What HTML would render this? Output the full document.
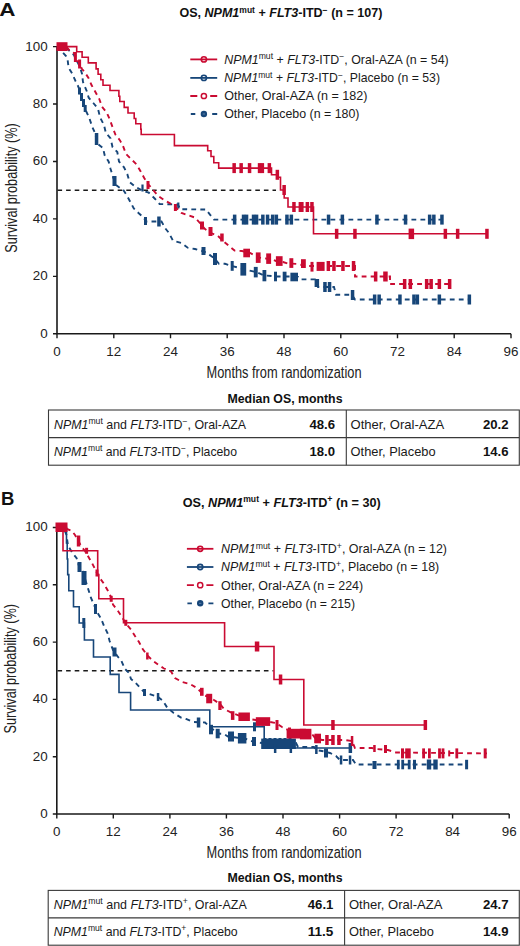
<!DOCTYPE html>
<html><head><meta charset="utf-8"><title>OS NPM1 FLT3</title>
<style>
html,body{margin:0;padding:0;background:#fff;}
body{width:520px;height:946px;overflow:hidden;}
svg{display:block;font-family:"Liberation Sans", sans-serif;}
</style></head>
<body>
<svg width="520" height="946" viewBox="0 0 520 946">
<rect width="520" height="946" fill="#fff"/>
<text x="-0.6" y="16" font-size="19.2" font-weight="bold" fill="#111" transform="scale(1.17 1)">A</text>
<text x="179.4" y="17.2" font-size="12.2" font-weight="bold" fill="#111" textLength="203" lengthAdjust="spacingAndGlyphs">OS, <tspan font-style="italic">NPM1</tspan><tspan font-size="8.3" dy="-4.5">mut</tspan><tspan dy="4.5"> + <tspan font-style="italic">FLT3</tspan>-ITD<tspan font-size="8.5" dy="-4.5">−</tspan><tspan dy="4.5"> (n = 107)</tspan></tspan></text>
<path d="M190.3 59.4 H217.2" stroke="#ca0b32" stroke-width="1.8"/>
<circle cx="203.9" cy="59.4" r="2.6" fill="none" stroke="#ca0b32" stroke-width="1.6"/>
<path d="M190.3 77.9 H217.2" stroke="#174679" stroke-width="1.8"/>
<circle cx="203.9" cy="77.9" r="2.6" fill="none" stroke="#174679" stroke-width="1.6"/>
<path d="M190.3 96 H197.3 M210.2 96 H217.2" stroke="#ca0b32" stroke-width="1.8"/>
<circle cx="203.9" cy="96" r="2.6" fill="#fff" stroke="#ca0b32" stroke-width="1.5"/>
<path d="M190.8 114 H195.3 M212.2 114 H217.2" stroke="#174679" stroke-width="1.8"/>
<circle cx="203.9" cy="114" r="3.2" fill="#174679"/><path d="M202.7 114 h2.4" stroke="#6f8fb8" stroke-width="0.8"/>
<text x="224.2" y="63.7" font-size="12.2" fill="#1a1a1a" textLength="224.5" lengthAdjust="spacingAndGlyphs"><tspan font-style="italic">NPM1</tspan><tspan font-size="8.5" dy="-4.5">mut</tspan><tspan dy="4.5"> + <tspan font-style="italic">FLT3</tspan>-ITD<tspan font-size="8.5" dy="-4.5">−</tspan><tspan dy="4.5">, Oral-AZA (n = 54)</tspan></tspan></text>
<text x="224.2" y="82.2" font-size="12.2" fill="#1a1a1a" textLength="215.8" lengthAdjust="spacingAndGlyphs"><tspan font-style="italic">NPM1</tspan><tspan font-size="8.5" dy="-4.5">mut</tspan><tspan dy="4.5"> + <tspan font-style="italic">FLT3</tspan>-ITD<tspan font-size="8.5" dy="-4.5">−</tspan><tspan dy="4.5">, Placebo (n = 53)</tspan></tspan></text>
<text x="224.2" y="100.3" font-size="12.2" fill="#1a1a1a" textLength="143.3" lengthAdjust="spacingAndGlyphs">Other, Oral-AZA (n = 182)</text>
<text x="224.2" y="118.3" font-size="12.2" fill="#1a1a1a" textLength="135.3" lengthAdjust="spacingAndGlyphs">Other, Placebo (n = 180)</text>
<path d="M57 46.6 V333.8 H511" fill="none" stroke="#1a1a1a" stroke-width="1.6"/>
<path d="M53 333.8 H57 M53 276.4 H57 M53 218.9 H57 M53 161.5 H57 M53 104 H57 M53 46.6 H57 M57 333.8 V338.3 M113.8 333.8 V338.3 M170.5 333.8 V338.3 M227.2 333.8 V338.3 M284 333.8 V338.3 M340.8 333.8 V338.3 M397.5 333.8 V338.3 M454.2 333.8 V338.3 M511 333.8 V338.3" stroke="#1a1a1a" stroke-width="1.4" fill="none"/>
<g font-size="13.4" fill="#222"><text x="47.6" y="337.7" text-anchor="end">0</text><text x="47.6" y="280.2" text-anchor="end">20</text><text x="47.6" y="222.8" text-anchor="end">40</text><text x="47.6" y="165.3" text-anchor="end">60</text><text x="47.6" y="107.9" text-anchor="end">80</text><text x="47.6" y="50.5" text-anchor="end">100</text><text x="57" y="355.8" text-anchor="middle">0</text><text x="113.8" y="355.8" text-anchor="middle">12</text><text x="170.5" y="355.8" text-anchor="middle">24</text><text x="227.2" y="355.8" text-anchor="middle">36</text><text x="284" y="355.8" text-anchor="middle">48</text><text x="340.8" y="355.8" text-anchor="middle">60</text><text x="397.5" y="355.8" text-anchor="middle">72</text><text x="454.2" y="355.8" text-anchor="middle">84</text><text x="511" y="355.8" text-anchor="middle">96</text></g>
<text x="206.5" y="377.6" font-size="16" fill="#222" textLength="155" lengthAdjust="spacingAndGlyphs">Months from randomization</text>
<text transform="translate(17 188) rotate(-90)" x="0" y="0" text-anchor="middle" font-size="16" fill="#222" textLength="129.5" lengthAdjust="spacingAndGlyphs">Survival probability (%)</text>
<path d="M57.5 190.3 H276" stroke="#1a1a1a" stroke-width="1.4" stroke-dasharray="4.6 4"/>
<path d="M57 46.6 L60 48.5 L62.7 52.5 L66 56 L67.5 59 L68.5 67 L70 70 L72.3 73.7 L75.2 80.4 L78 86 L79.5 90 L81 95 L83 100 L84.5 106 L86 111 L89.4 118.3 L92.3 127 L95 133 L96.5 139 L98 144 L103 148 L104.8 155.8 L108.6 161.5 L110.6 169 L113 177 L116 185 L120 188 L123 189.5 L127 195.8 L130.4 202 L133.8 208.5 L138.5 213 L144 218 L146 221.5 L161.5 221.5 L165.4 228.5 L169 233 L173 240.8 L181.5 243 L187.7 247.7 L195 249 L201 250.5 L207 253 L214 258 L219 263.8 L225 263.8 L232 266 L240 268 L247 270 L256 272 L264 275.4 L277 276.5 L290 276.5 L298 277 L300 279.4 L315 279.4 L318 287 L334 287 L336 294.8 L352 294.8 L355 299.5 L470 299.5" fill="none" stroke="#174679" stroke-width="1.9" stroke-dasharray="4.8 4.2"/>
<g fill="#174679"><rect x="78" y="87.5" width="3" height="7"/><rect x="80" y="93" width="3" height="8"/><rect x="82" y="99" width="3" height="8"/><rect x="83.7" y="105" width="3" height="7"/><rect x="94.8" y="133" width="3.5" height="12"/><rect x="112.5" y="176" width="4" height="10"/><rect x="144" y="217" width="3" height="8"/><rect x="157.2" y="216.5" width="3.5" height="10"/><rect x="201.5" y="247" width="4" height="8"/><rect x="213" y="253" width="4" height="12"/><rect x="230.7" y="261" width="3" height="9.8"/><rect x="240.4" y="263" width="5.8" height="12.6"/><rect x="253.8" y="266.9" width="3.9" height="10.5"/><rect x="262.5" y="270" width="3.8" height="11.3"/><rect x="274" y="271.7" width="3" height="9.6"/><rect x="282.7" y="271.7" width="3.8" height="9.6"/><rect x="290.4" y="272.7" width="7.6" height="8.6"/><rect x="314.6" y="279" width="4.5" height="8"/><rect x="323.2" y="282" width="3.5" height="10"/><rect x="327.8" y="282" width="3.5" height="10"/><rect x="350.8" y="290" width="3.5" height="10"/><rect x="372.9" y="294.5" width="3.5" height="10"/><rect x="377.4" y="294.5" width="3.5" height="10"/><rect x="398.2" y="294.5" width="3.5" height="10"/><rect x="412.2" y="294.5" width="3.5" height="10"/><rect x="415.6" y="294.5" width="3.5" height="10"/><rect x="437.6" y="294.5" width="3.5" height="10"/><rect x="467.6" y="294.5" width="3.5" height="10"/></g>
<path d="M57 46.6 L66 48 L71 52 L74 55 L76 60 L78 63 L80 67 L82 73.7 L83 82 L86.7 91 L88.7 97.7 L93.3 103 L98 108.7 L100 117.3 L104 125 L105.8 132.7 L110.6 138.5 L112.5 147 L117.3 152 L119 161.5 L124 167.3 L127.3 174.2 L129.6 182 L135 186.5 L142 190.4 L148.8 192.7 L154.2 198 L159.6 204 L178 204.6 L180 209.2 L206 209.5 L210 214.7 L214 219.6 L443 219.6" fill="none" stroke="#174679" stroke-width="1.9" stroke-dasharray="4.8 4.2"/>
<g fill="#174679"><rect x="141.4" y="184.5" width="2.2" height="7"/><rect x="177.2" y="202.5" width="2.2" height="6"/><rect x="232.9" y="214.6" width="3.5" height="10"/><rect x="241.8" y="214.6" width="3.5" height="10"/><rect x="244.8" y="214.6" width="3.5" height="10"/><rect x="251.8" y="214.6" width="3.5" height="10"/><rect x="254.8" y="214.6" width="3.5" height="10"/><rect x="261.1" y="214.6" width="3.5" height="10"/><rect x="265.8" y="214.6" width="3.5" height="10"/><rect x="270.9" y="214.6" width="3.5" height="10"/><rect x="274.6" y="214.6" width="3.5" height="10"/><rect x="285.2" y="214.6" width="3.5" height="10"/><rect x="289.6" y="214.6" width="3.5" height="10"/><rect x="326.8" y="214.6" width="3.5" height="10"/><rect x="340.6" y="214.6" width="3.5" height="10"/><rect x="375.2" y="214.6" width="3.5" height="10"/><rect x="403.8" y="214.6" width="3.5" height="10"/><rect x="427.9" y="214.6" width="3.5" height="10"/><rect x="432.1" y="214.6" width="3.5" height="10"/><rect x="440.2" y="214.6" width="3.5" height="10"/></g>
<path d="M57 46.6 L67 47.5 L70 51 L74 53 L75.5 56 L76.5 61 L78.5 61.5 L80.5 66 L82 69 L84.6 72 L88.5 78 L91.5 85 L95.4 92 L99.2 98.8 L102 106.7 L106.7 112.5 L109.6 119 L112.5 127 L115.4 134.6 L120 140.4 L123 146 L126 154 L131.7 159.6 L136.5 164.4 L140.4 171 L144.2 178 L148 184 L153.5 190.4 L158 195.8 L163.5 199.6 L170.4 203.5 L175.4 207 L181.5 213 L188.5 215.4 L195.4 217.7 L199 222 L205 229 L211 233 L218 236 L222 240 L229 246 L234.6 250.6 L242 251 L250 253 L256 256 L260 257.7 L266 258.5 L271 259 L276 261 L283 262 L288 263.5 L298 264 L305 266 L355 266 L355 276.5 L390 276.5 L390 284 L451 284" fill="none" stroke="#ca0b32" stroke-width="1.9" stroke-dasharray="4.8 4.2"/>
<g fill="#ca0b32"><rect x="73.9" y="52" width="3" height="10"/><rect x="78.1" y="59.5" width="3" height="9"/><rect x="146.5" y="181" width="3" height="8"/><rect x="173.9" y="204" width="3" height="7"/><rect x="200" y="221.5" width="4" height="8"/><rect x="208.5" y="227" width="4" height="9"/><rect x="220.2" y="233.5" width="3.5" height="8"/><rect x="243.3" y="248.7" width="6.7" height="8.6"/><rect x="255.8" y="252.4" width="4.8" height="10.5"/><rect x="266.2" y="253.4" width="4.9" height="10.5"/><rect x="275.9" y="256.2" width="6.7" height="9.7"/><rect x="289.4" y="258.2" width="3.9" height="9.7"/><rect x="301" y="259.2" width="4.8" height="8.8"/><rect x="310.5" y="261.9" width="3" height="9.7"/><rect x="316.6" y="261.9" width="8" height="9"/><rect x="326.6" y="261" width="3.5" height="10"/><rect x="332.2" y="261" width="3.5" height="10"/><rect x="341.2" y="261" width="3.5" height="10"/><rect x="351.8" y="261" width="3.5" height="10"/><rect x="373.9" y="271.5" width="3.5" height="10"/><rect x="383.2" y="271.5" width="4.5" height="10"/><rect x="402.9" y="279" width="3.5" height="10"/><rect x="408.6" y="279" width="3.5" height="10"/><rect x="424.9" y="279" width="3.5" height="10"/><rect x="429.4" y="279" width="3.5" height="10"/><rect x="437.6" y="279" width="3.5" height="10"/><rect x="447.9" y="279" width="3.5" height="10"/></g>
<path d="M57 46.6 H76.7 V51.8 H82.1 V57.2 H88.3 V62.9 H96.1 V68.9 H98.1 V74.3 H100.8 V79.8 H103 V85.3 H110 V90.5 H118.9 V96.2 H119.8 V101.5 H124.2 V107.4 H128 V113 H134.2 V118.5 H135.8 V123.8 H140.8 V129.2 H141.2 V134.5 H174.4 V145.6 H207.7 V150.8 H211 V156.5 H213.8 V162.7 H218.7 V168.1 H271.5 V174.8 H277.3 V177.3 H280.5 V190 H284.2 V198 H288 V207 H313.5 V233.8 H488" fill="none" stroke="#ca0b32" stroke-width="1.6"/>
<g fill="#ca0b32"><rect x="232.4" y="163.1" width="3.5" height="10"/><rect x="239.4" y="163.1" width="3.5" height="10"/><rect x="247.8" y="163.1" width="3.5" height="10"/><rect x="257.8" y="163.1" width="3.5" height="10"/><rect x="260.6" y="163.1" width="3.5" height="10"/><rect x="267.6" y="163.1" width="3.5" height="10"/><rect x="275.6" y="169.8" width="3.5" height="10"/><rect x="282.4" y="185" width="3.5" height="10"/><rect x="292.2" y="202" width="3.5" height="10"/><rect x="298.6" y="202" width="3.5" height="10"/><rect x="300.1" y="202" width="3.5" height="10"/><rect x="305.6" y="202" width="3.5" height="10"/><rect x="310.2" y="202" width="3.5" height="10"/><rect x="334.9" y="228.8" width="3.5" height="10"/><rect x="353.2" y="228.8" width="3.5" height="10"/><rect x="408.6" y="228.6" width="5.5" height="10.5"/><rect x="443.6" y="228.8" width="3.5" height="10"/><rect x="455.9" y="228.8" width="3.5" height="10"/><rect x="485.2" y="228.8" width="3.5" height="10"/></g>
<rect x="56.5" y="42.2" width="11" height="8.8" fill="#ca0b32"/>
<text x="227.5" y="402.5" font-size="12.2" font-weight="bold" fill="#111" textLength="115" lengthAdjust="spacingAndGlyphs">Median OS, months</text>
<rect x="48.5" y="410" width="470.8" height="55.2" fill="none" stroke="#3a3a3a" stroke-width="1.1"/>
<path d="M48.5 437.6 H519.3 M346.3 410 V465.2" stroke="#3a3a3a" stroke-width="1.1"/>
<text x="54" y="428.8" font-size="12.2" fill="#1a1a1a" textLength="192" lengthAdjust="spacingAndGlyphs"><tspan font-style="italic">NPM1</tspan><tspan font-size="8.5" dy="-4.5">mut</tspan><tspan dy="4.5"> and <tspan font-style="italic">FLT3</tspan>-ITD<tspan font-size="8.5" dy="-4.5">−</tspan><tspan dy="4.5">, Oral-AZA</tspan></tspan></text>
<text x="335.1" y="428.8" font-size="12.5" font-weight="bold" text-anchor="end" fill="#111" textLength="25.6" lengthAdjust="spacingAndGlyphs">48.6</text>
<text x="350.6" y="428.8" font-size="12.2" fill="#1a1a1a" textLength="93.5" lengthAdjust="spacingAndGlyphs">Other, Oral-AZA</text>
<text x="508.5" y="428.8" font-size="12.5" font-weight="bold" text-anchor="end" fill="#111" textLength="25.6" lengthAdjust="spacingAndGlyphs">20.2</text>
<text x="54" y="455.6" font-size="12.2" fill="#1a1a1a" textLength="183" lengthAdjust="spacingAndGlyphs"><tspan font-style="italic">NPM1</tspan><tspan font-size="8.5" dy="-4.5">mut</tspan><tspan dy="4.5"> and <tspan font-style="italic">FLT3</tspan>-ITD<tspan font-size="8.5" dy="-4.5">−</tspan><tspan dy="4.5">, Placebo</tspan></tspan></text>
<text x="335.1" y="455.6" font-size="12.5" font-weight="bold" text-anchor="end" fill="#111" textLength="25.6" lengthAdjust="spacingAndGlyphs">18.0</text>
<text x="350.6" y="455.6" font-size="12.2" fill="#1a1a1a" textLength="85" lengthAdjust="spacingAndGlyphs">Other, Placebo</text>
<text x="508.5" y="455.6" font-size="12.5" font-weight="bold" text-anchor="end" fill="#111" textLength="25.6" lengthAdjust="spacingAndGlyphs">14.6</text>
<text x="1" y="504.6" font-size="18.5" font-weight="bold" fill="#111">B</text>
<text x="182.7" y="506.6" font-size="12.2" font-weight="bold" fill="#111" textLength="198" lengthAdjust="spacingAndGlyphs">OS, <tspan font-style="italic">NPM1</tspan><tspan font-size="8.3" dy="-4.5">mut</tspan><tspan dy="4.5"> + <tspan font-style="italic">FLT3</tspan>-ITD<tspan font-size="8.5" dy="-4.5">+</tspan><tspan dy="4.5"> (n = 30)</tspan></tspan></text>
<path d="M186.9 548.8 H213.4" stroke="#ca0b32" stroke-width="1.8"/>
<circle cx="200.2" cy="548.8" r="2.6" fill="none" stroke="#ca0b32" stroke-width="1.6"/>
<path d="M186.9 567 H213.4" stroke="#174679" stroke-width="1.8"/>
<circle cx="200.2" cy="567" r="2.6" fill="none" stroke="#174679" stroke-width="1.6"/>
<path d="M186.9 585.2 H193.9 M206.4 585.2 H213.4" stroke="#ca0b32" stroke-width="1.8"/>
<circle cx="200.2" cy="585.2" r="2.6" fill="#fff" stroke="#ca0b32" stroke-width="1.5"/>
<path d="M187.4 603.3 H191.9 M208.4 603.3 H213.4" stroke="#174679" stroke-width="1.8"/>
<circle cx="200.2" cy="603.3" r="3.2" fill="#174679"/><path d="M199 603.3 h2.4" stroke="#6f8fb8" stroke-width="0.8"/>
<text x="221" y="553.1" font-size="12.2" fill="#1a1a1a" textLength="226" lengthAdjust="spacingAndGlyphs"><tspan font-style="italic">NPM1</tspan><tspan font-size="8.5" dy="-4.5">mut</tspan><tspan dy="4.5"> + <tspan font-style="italic">FLT3</tspan>-ITD<tspan font-size="8.5" dy="-4.5">+</tspan><tspan dy="4.5">, Oral-AZA (n = 12)</tspan></tspan></text>
<text x="221" y="571.3" font-size="12.2" fill="#1a1a1a" textLength="218.2" lengthAdjust="spacingAndGlyphs"><tspan font-style="italic">NPM1</tspan><tspan font-size="8.5" dy="-4.5">mut</tspan><tspan dy="4.5"> + <tspan font-style="italic">FLT3</tspan>-ITD<tspan font-size="8.5" dy="-4.5">+</tspan><tspan dy="4.5">, Placebo (n = 18)</tspan></tspan></text>
<text x="221" y="589.5" font-size="12.2" fill="#1a1a1a" textLength="142.2" lengthAdjust="spacingAndGlyphs">Other, Oral-AZA (n = 224)</text>
<text x="221" y="607.6" font-size="12.2" fill="#1a1a1a" textLength="134" lengthAdjust="spacingAndGlyphs">Other, Placebo (n = 215)</text>
<path d="M56.8 527.5 V814 H509.2" fill="none" stroke="#1a1a1a" stroke-width="1.6"/>
<path d="M52.8 814 H56.8 M52.8 756.7 H56.8 M52.8 699.4 H56.8 M52.8 642.1 H56.8 M52.8 584.8 H56.8 M52.8 527.5 H56.8 M56.8 814 V818.5 M113.3 814 V818.5 M169.9 814 V818.5 M226.4 814 V818.5 M283 814 V818.5 M339.6 814 V818.5 M396.1 814 V818.5 M452.6 814 V818.5 M509.2 814 V818.5" stroke="#1a1a1a" stroke-width="1.4" fill="none"/>
<g font-size="13.4" fill="#222"><text x="47.6" y="817.9" text-anchor="end">0</text><text x="47.6" y="760.6" text-anchor="end">20</text><text x="47.6" y="703.2" text-anchor="end">40</text><text x="47.6" y="646" text-anchor="end">60</text><text x="47.6" y="588.6" text-anchor="end">80</text><text x="47.6" y="531.4" text-anchor="end">100</text><text x="56.8" y="836.3" text-anchor="middle">0</text><text x="113.3" y="836.3" text-anchor="middle">12</text><text x="169.9" y="836.3" text-anchor="middle">24</text><text x="226.4" y="836.3" text-anchor="middle">36</text><text x="283" y="836.3" text-anchor="middle">48</text><text x="339.6" y="836.3" text-anchor="middle">60</text><text x="396.1" y="836.3" text-anchor="middle">72</text><text x="452.6" y="836.3" text-anchor="middle">84</text><text x="509.2" y="836.3" text-anchor="middle">96</text></g>
<text x="206.5" y="857.6" font-size="16" fill="#222" textLength="155" lengthAdjust="spacingAndGlyphs">Months from randomization</text>
<text transform="translate(15.9 668.8) rotate(-90)" x="0" y="0" text-anchor="middle" font-size="16" fill="#222" textLength="129.5" lengthAdjust="spacingAndGlyphs">Survival probability (%)</text>
<path d="M57.5 670.8 H273.5" stroke="#1a1a1a" stroke-width="1.4" stroke-dasharray="4.6 4"/>
<path d="M57 527.5 L64 529 L66.5 535 L68 545.7 L72.5 553 L76.5 558 L79 566 L83 572 L86 582 L88.5 590 L91 598 L95 607 L97 612 L101 618.5 L104 626 L107.5 633 L109.6 641 L113 650 L118 657 L121 660 L125 669 L129 673 L131 679 L135.2 682.5 L144 692 L158 697 L163 701 L167.3 707.8 L173.7 713 L181 717.6 L186 719 L193 722 L205 722.5 L209 726 L213 729.5 L216 733.5 L224 734 L228 736.5 L236 737.5 L246 739 L254 742 L262 743 L296 743 L298 747 L314 747 L316 750 L322 751 L330 753 L336 756 L340 760 L353 760 L356 764.5 L467 764.5" fill="none" stroke="#174679" stroke-width="1.9" stroke-dasharray="4.8 4.2"/>
<g fill="#174679"><rect x="77.5" y="562" width="4" height="10"/><rect x="81.5" y="571" width="5" height="14"/><rect x="94" y="604" width="3" height="10"/><rect x="112.5" y="647.5" width="4" height="9"/><rect x="143" y="689" width="3" height="7"/><rect x="156.8" y="693" width="2.5" height="8"/><rect x="196.8" y="717.5" width="3.5" height="10"/><rect x="209" y="724.8" width="4" height="9.5"/><rect x="215.7" y="728.8" width="4" height="9.5"/><rect x="228" y="731.5" width="6" height="10"/><rect x="237.9" y="733" width="8.5" height="10.5"/><rect x="252" y="737" width="4" height="9"/><rect x="263.5" y="738" width="3" height="10"/><rect x="268.5" y="738" width="3" height="10"/><rect x="273.5" y="738" width="3" height="10"/><rect x="278.5" y="738" width="3" height="10"/><rect x="283.5" y="738" width="3" height="10"/><rect x="288.5" y="738" width="3" height="10"/><rect x="315.1" y="745" width="2.5" height="9"/><rect x="324" y="748.5" width="4" height="9"/><rect x="339.8" y="755.5" width="2.5" height="9"/><rect x="348.8" y="755.5" width="2.5" height="9"/><rect x="372.5" y="761" width="4" height="8"/><rect x="396.9" y="759.8" width="2.8" height="9.5"/><rect x="401.3" y="759.8" width="2.8" height="9.5"/><rect x="407.8" y="759.8" width="2.8" height="9.5"/><rect x="413" y="759.8" width="3" height="9.5"/><rect x="426.8" y="759.5" width="4.4" height="10"/><rect x="433.3" y="759.5" width="4.4" height="10"/><rect x="465.1" y="759.8" width="3" height="9.5"/></g>
<g fill="#174679"><rect x="261.2" y="738.6" width="34.7" height="10.4"/></g>
<path d="M57 527.5 H66.5 V543 H67.2 V559 H67.7 V574.6 H68.8 V590.7 H73.5 V606.7 H79.2 V623 H84.4 V640 H93.5 V657 H110.2 V674.4 H119 V692.5 H130.6 V710 H209.8 V726.8 H264.2 V748 H350.4" fill="none" stroke="#174679" stroke-width="1.6"/>
<g fill="#174679"><rect x="82.3" y="618" width="3" height="10"/><rect x="253" y="722.3" width="3" height="9"/><rect x="273.9" y="744" width="2.5" height="9"/><rect x="289.6" y="744" width="2.5" height="9"/><rect x="348.6" y="743" width="3.5" height="10"/></g>
<path d="M57 527.5 L67 529 L72 531 L75 535 L78 540 L81 546 L85 551 L88.5 557 L92 563 L95.5 570 L99 577 L103.4 583 L107.5 590 L110.5 596 L112 600 L113 604.6 L118 611 L122 617 L126 623.8 L131 629.5 L135 636 L139 642 L142.7 649 L147 655 L152 660 L158 664.6 L164 668.5 L171 671.5 L175 678 L182 682 L190 684 L197 688 L201 692 L204 695.4 L210 697 L214 700 L220 704 L224 709 L232 713 L240 716 L249 719 L256 720 L270 722 L276 723 L282 727 L288 730 L296 733 L312 734 L315 738 L322 740 L345 740 L352 741 L355 748 L362 748 L372 748 L376 749 L388 750 L396 752.5 L487 753.4" fill="none" stroke="#ca0b32" stroke-width="1.9" stroke-dasharray="4.8 4.2"/>
<g fill="#ca0b32"><rect x="76.8" y="535.5" width="3.5" height="11"/><rect x="95.5" y="569.5" width="3" height="7"/><rect x="146.1" y="652.5" width="2.5" height="7"/><rect x="200" y="687.8" width="3.6" height="8"/><rect x="206.2" y="693.8" width="6" height="9.5"/><rect x="218.3" y="701.2" width="3.3" height="8.8"/><rect x="230.9" y="711.2" width="3.5" height="8.7"/><rect x="239.2" y="713.5" width="3.5" height="7"/><rect x="245.2" y="714" width="3.5" height="7"/><rect x="256.5" y="718.5" width="3" height="7"/><rect x="261.5" y="718.5" width="3" height="7"/><rect x="266.5" y="718.5" width="3" height="7"/><rect x="275.5" y="720" width="3" height="10"/><rect x="288" y="727.5" width="3" height="9"/><rect x="298.2" y="729" width="3.5" height="8"/><rect x="304.5" y="729" width="3" height="8"/><rect x="314.5" y="735" width="3" height="8"/><rect x="325.2" y="735" width="3.5" height="10"/><rect x="331.2" y="735" width="3.5" height="10"/><rect x="337.2" y="735" width="3.5" height="10"/><rect x="350.8" y="736" width="2.5" height="10"/><rect x="373.2" y="745" width="2.5" height="7"/><rect x="384" y="745" width="3" height="8"/><rect x="401" y="748.4" width="3" height="10"/><rect x="405.2" y="748.4" width="5.5" height="10"/><rect x="422.2" y="748.4" width="2.8" height="10"/><rect x="428" y="748.4" width="2.8" height="10"/><rect x="438.1" y="748.4" width="2.8" height="10"/><rect x="441.6" y="748.4" width="2.8" height="10"/><rect x="448.2" y="750.4" width="2" height="6"/><rect x="455.4" y="748.4" width="2.8" height="10"/><rect x="483.7" y="748.4" width="3" height="10"/></g>
<g fill="#ca0b32"><rect x="238.4" y="712.5" width="11.5" height="8.5"/><rect x="255.8" y="717.2" width="14.4" height="8.7"/><rect x="286.6" y="728.8" width="19.3" height="9.7"/><rect x="299.9" y="728.8" width="11.5" height="10.6"/><rect x="314.4" y="733.7" width="6.6" height="9.6"/></g>
<path d="M57 527.5 H63 V550.8 H97.7 V574.6 H98.8 V598.8 H123.5 V622.8 H224.6 V646.5 H274 V679.5 H303.8 V725 H425.4" fill="none" stroke="#ca0b32" stroke-width="1.6"/>
<g fill="#ca0b32"><rect x="85.1" y="547.8" width="3" height="6"/><rect x="109.7" y="595.8" width="3" height="6"/><rect x="124.3" y="619.8" width="3" height="6"/><rect x="254.8" y="641.5" width="4.5" height="10"/><rect x="278.8" y="674.5" width="3.5" height="10"/><rect x="331.2" y="720" width="3.5" height="10"/><rect x="423.6" y="720" width="3.5" height="10"/></g>
<rect x="55.5" y="522.5" width="12" height="9.5" fill="#ca0b32"/>
<text x="227.5" y="882.4" font-size="12.2" font-weight="bold" fill="#111" textLength="115" lengthAdjust="spacingAndGlyphs">Median OS, months</text>
<rect x="48.2" y="890.4" width="471.1" height="54.8" fill="none" stroke="#3a3a3a" stroke-width="1.1"/>
<path d="M48.2 917.9 H519.3 M344.6 890.4 V945.2" stroke="#3a3a3a" stroke-width="1.1"/>
<text x="53.7" y="908.6" font-size="12.2" fill="#1a1a1a" textLength="193" lengthAdjust="spacingAndGlyphs"><tspan font-style="italic">NPM1</tspan><tspan font-size="8.5" dy="-4.5">mut</tspan><tspan dy="4.5"> and <tspan font-style="italic">FLT3</tspan>-ITD<tspan font-size="8.5" dy="-4.5">+</tspan><tspan dy="4.5">, Oral-AZA</tspan></tspan></text>
<text x="333.4" y="908.6" font-size="12.5" font-weight="bold" text-anchor="end" fill="#111" textLength="25.6" lengthAdjust="spacingAndGlyphs">46.1</text>
<text x="348.9" y="908.6" font-size="12.2" fill="#1a1a1a" textLength="93.5" lengthAdjust="spacingAndGlyphs">Other, Oral-AZA</text>
<text x="508.5" y="908.6" font-size="12.5" font-weight="bold" text-anchor="end" fill="#111" textLength="25.6" lengthAdjust="spacingAndGlyphs">24.7</text>
<text x="53.7" y="935.6" font-size="12.2" fill="#1a1a1a" textLength="184" lengthAdjust="spacingAndGlyphs"><tspan font-style="italic">NPM1</tspan><tspan font-size="8.5" dy="-4.5">mut</tspan><tspan dy="4.5"> and <tspan font-style="italic">FLT3</tspan>-ITD<tspan font-size="8.5" dy="-4.5">+</tspan><tspan dy="4.5">, Placebo</tspan></tspan></text>
<text x="333.4" y="935.6" font-size="12.5" font-weight="bold" text-anchor="end" fill="#111" textLength="25.6" lengthAdjust="spacingAndGlyphs">11.5</text>
<text x="348.9" y="935.6" font-size="12.2" fill="#1a1a1a" textLength="85" lengthAdjust="spacingAndGlyphs">Other, Placebo</text>
<text x="508.5" y="935.6" font-size="12.5" font-weight="bold" text-anchor="end" fill="#111" textLength="25.6" lengthAdjust="spacingAndGlyphs">14.9</text>
</svg>
</body></html>
